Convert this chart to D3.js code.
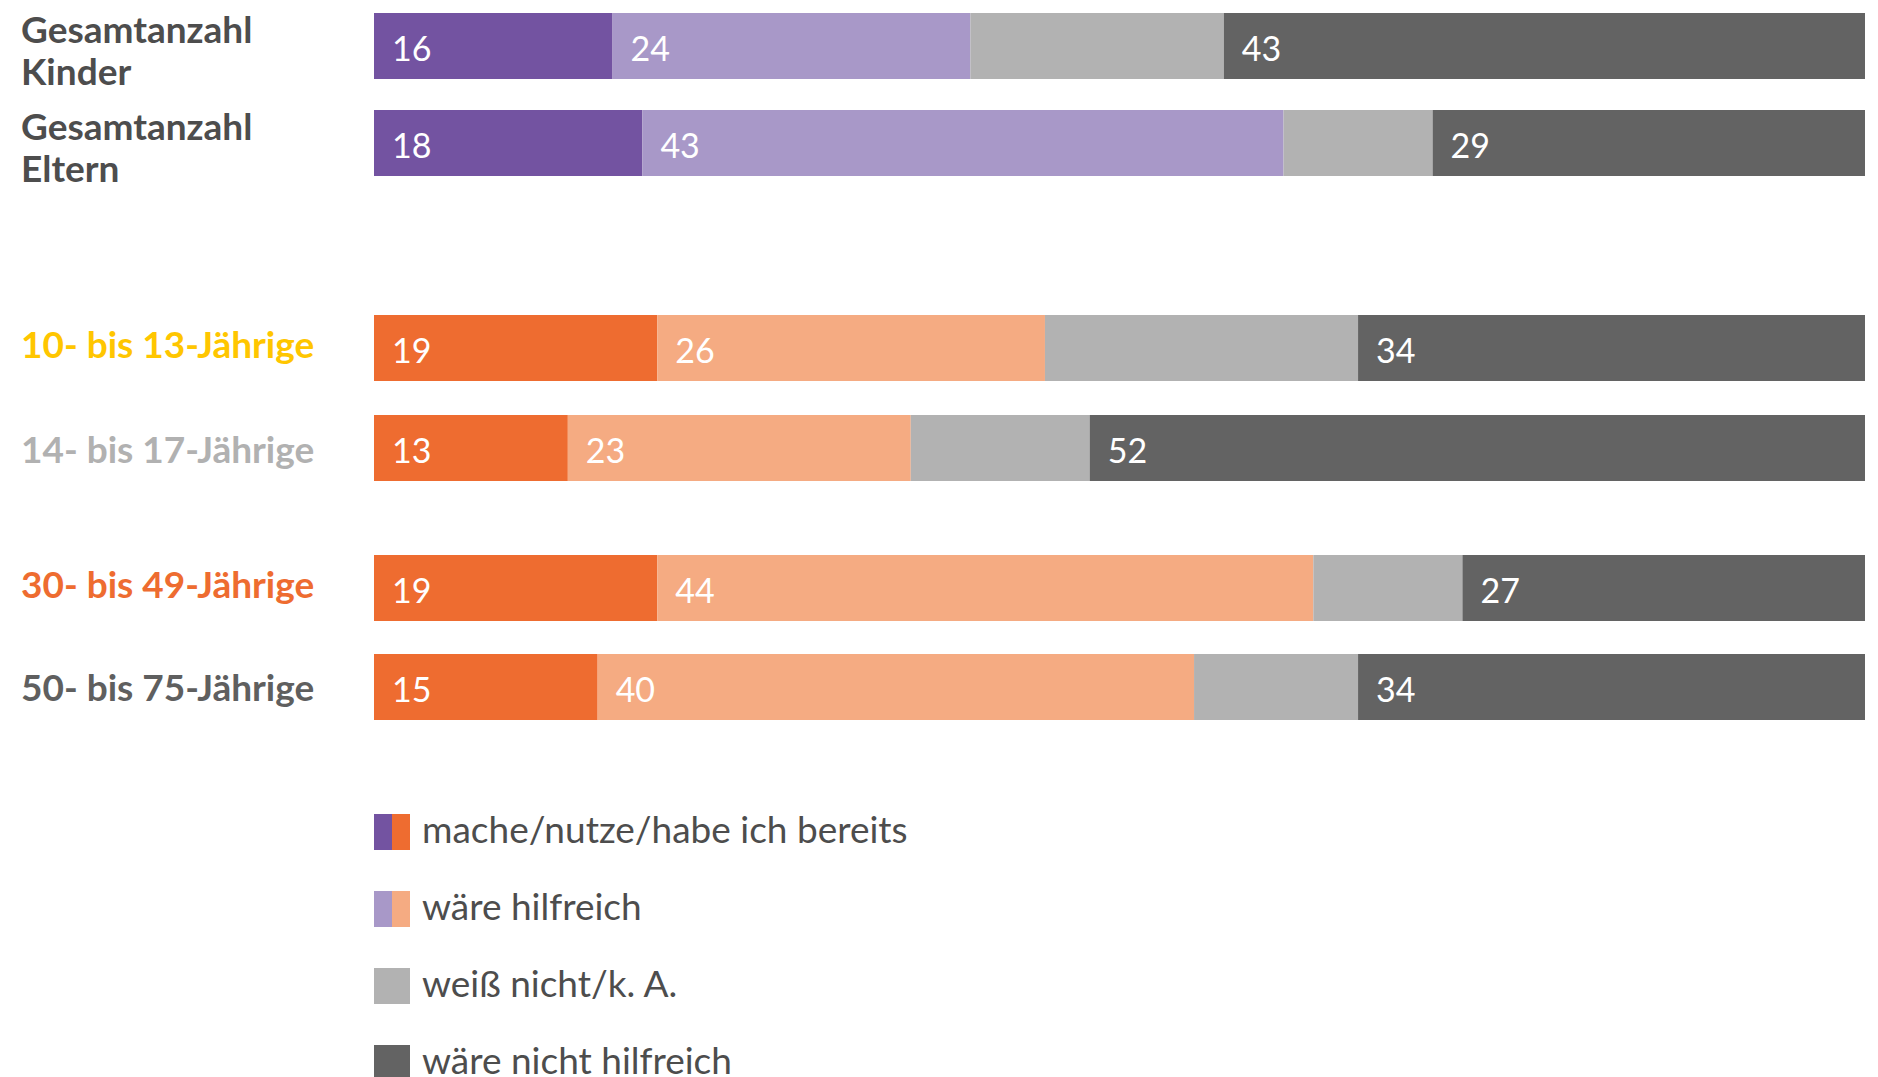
<!DOCTYPE html>
<html><head><meta charset="utf-8">
<script src="https://cdn.jsdelivr.net/npm/d3@7"></script>
<style>body{margin:0;background:#fff}svg{display:block}text{font-family:Lato,"Open Sans",sans-serif}</style>
</head><body>
<script>
// ---- data ----
const categories = ["Gesamtanzahl Kinder","Gesamtanzahl Eltern","10- bis 13-Jährige","14- bis 17-Jährige","30- bis 49-Jährige","50- bis 75-Jährige"];
const seriesNames = ["mache/nutze/habe ich bereits","wäre hilfreich","weiß nicht/k. A.","wäre nicht hilfreich"];
const bereits = [16,18,19,13,19,15];
const hilfreich = [24,43,26,23,44,40];
const weissNicht = [17,10,21,12,10,11];
const nichtHilfreich = [43,29,34,52,27,34];
const showLabel = [true,true,false,true];
const palette = ["purple","purple","orange","orange","orange","orange"];
const labelColors = ["#4d4d4d","#4d4d4d","#FFC600","#B1B1B1","#EE6C30","#5f5f5f"];

// ---- layout ----
const W=1878,H=1077;
const svg=d3.select("body").append("svg").attr("width",W).attr("height",H);
const x=d3.scaleLinear().domain([0,100]).range([374,1865]);
const yTop=d3.scaleOrdinal().domain(categories).range([13,110,315,415,555,654]);
const yLabel=d3.scaleOrdinal().domain(categories).range([43,140,358,463,598,701]);
const barH=66;
const colors={purple:["#7353A1","#A898C8","#B2B2B2","#636363"],orange:["#EE6C30","#F5AB82","#B2B2B2","#636363"]};

const rows=categories.map((c,i)=>{
  const vals=[bereits[i],hilfreich[i],weissNicht[i],nichtHilfreich[i]];
  let acc=0;
  return {cat:c,idx:i,segs:vals.map((v,k)=>{const s={k,v,x0:acc,x1:acc+v};acc+=v;return s;})};
});

const g=svg.selectAll("g.row").data(rows).join("g").attr("class","row")
  .attr("transform",d=>`translate(0,${yTop(d.cat)})`);
g.selectAll("rect").data(d=>d.segs.map(s=>({...s,pal:palette[d.idx]}))).join("rect")
  .attr("x",s=>x(s.x0)).attr("width",s=>x(s.x1)-x(s.x0)).attr("y",0).attr("height",barH)
  .attr("fill",s=>colors[s.pal][s.k]);
g.selectAll("text.val").data(d=>d.segs.filter(s=>showLabel[s.k])).join("text").attr("class","val")
  .attr("x",s=>x(s.x0)+18).attr("y",48).attr("fill","#fff").attr("font-size",34).text(s=>s.v);

// category labels
const lab=svg.selectAll("text.cat").data(rows).join("text").attr("class","cat")
  .attr("x",21).attr("font-weight","bold").attr("font-size",37).attr("fill",d=>labelColors[d.idx])
  .attr("y",d=>yLabel(d.cat));
lab.each(function(d){
  const t=d3.select(this);
  if(d.cat.startsWith("Gesamtanzahl")){
    const parts=d.cat.split(" ");
    parts.forEach((p,j)=>t.append("tspan").attr("x",21).attr("dy",j?42:0).text(p));
  } else {
    t.text(d.cat);
  }
});

// legend
const leg=svg.selectAll("g.leg").data(seriesNames).join("g").attr("class","leg")
  .attr("transform",(d,i)=>`translate(374,${814+i*77})`);
leg.each(function(d,i){
  const L=d3.select(this);
  if(i<2){
    L.append("rect").attr("width",18.5).attr("height",36).attr("fill",colors.purple[i]);
    L.append("rect").attr("x",18).attr("width",18).attr("height",36).attr("fill",colors.orange[i]);
  } else {
    L.append("rect").attr("width",36).attr("height",36).attr("fill",colors.purple[i]);
  }
  L.append("text").attr("x",48).attr("y",29).attr("font-size",37).attr("fill","#4d4d4d").text(d);
});
</script>
</body></html>
